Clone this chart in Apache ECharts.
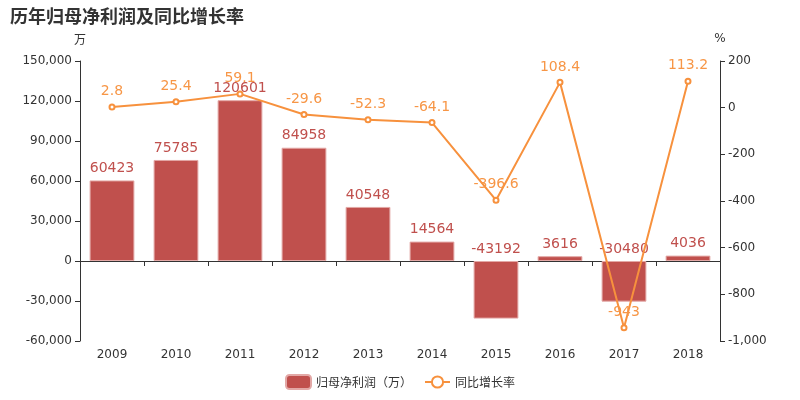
<!DOCTYPE html>
<html><head><meta charset="utf-8">
<script src="https://cdn.jsdelivr.net/npm/echarts@6/dist/echarts.min.js"></script>
<style>html,body{margin:0;padding:0;}#c{width:800px;height:400px;}</style>
</head><body><div id="c"></div>
<script>
var categories = ['2009','2010','2011','2012','2013','2014','2015','2016','2017','2018'];
var profit = [60423, 75785, 120601, 84958, 40548, 14564, -43192, 3616, -30480, 4036];
var growth = [2.8, 25.4, 59.1, -29.6, -52.3, -64.1, -396.6, 108.4, -943, 113.2];
var leftTicks = {min: -60000, max: 150000, interval: 30000};
var rightTicks = {min: -1000, max: 200, interval: 200};

var chart = echarts.init(document.getElementById('c'), null, {renderer: 'canvas'});
var axisColor = '#333';
var font = '"DejaVu Sans", "Noto Sans CJK SC", sans-serif';
chart.setOption({
  animation: false,
  textStyle: {fontFamily: font},
  title: {text: '历年归母净利润及同比增长率', left: 5, top: 2,
    textStyle: {fontSize: 18, fontWeight: 'bold', color: '#333', fontFamily: '"Noto Sans CJK SC", sans-serif'}},
  grid: {left: 80, right: 80, top: 61, bottom: 59, containLabel: false},
  legend: {bottom: 5, left: 'center', itemWidth: 25, itemHeight: 14, itemGap: 12,
    textStyle: {color: '#333', fontSize: 12, fontFamily: '"Noto Sans CJK SC", sans-serif'},
    data: [{name: '归母净利润（万）', icon: 'roundRect'}, {name: '同比增长率'}]},
  xAxis: [{
    type: 'category', data: categories,
    axisLine: {onZero: true, lineStyle: {color: axisColor}},
    axisTick: {show: true, length: 5, lineStyle: {color: axisColor}},
    axisLabel: {show: false}
  }, {
    type: 'category', data: categories, position: 'bottom',
    axisLine: {show: false, onZero: false}, axisTick: {show: false},
    axisLabel: {color: axisColor, fontSize: 12, margin: 8}
  }],
  yAxis: [{
    type: 'value', name: '万', nameGap: 16, nameTextStyle: {color: axisColor, fontSize: 12, align: 'center', fontFamily: '"Noto Sans CJK SC", sans-serif'},
    min: leftTicks.min, max: leftTicks.max, interval: leftTicks.interval,
    axisLine: {show: true, lineStyle: {color: axisColor}},
    axisTick: {show: true, length: 5, lineStyle: {color: axisColor}},
    axisLabel: {color: axisColor, fontSize: 12, margin: 8},
    splitLine: {show: false}
  }, {
    type: 'value', name: '%', nameGap: 16, nameTextStyle: {color: axisColor, fontSize: 12, align: 'center'},
    min: rightTicks.min, max: rightTicks.max, interval: rightTicks.interval,
    axisLine: {show: true, lineStyle: {color: axisColor}},
    axisTick: {show: true, length: 5, lineStyle: {color: axisColor}},
    axisLabel: {color: axisColor, fontSize: 12, margin: 8},
    splitLine: {show: false}
  }],
  series: [{
    name: '归母净利润（万）', type: 'bar', data: profit, xAxisIndex: 0, yAxisIndex: 0,
    barWidth: '70%',
    itemStyle: {color: '#c0504d', borderColor: '#e3a8a6', borderWidth: 1},
    label: {show: true, position: 'top', color: '#c0504d', fontSize: 14, distance: 5}
  }, {
    name: '同比增长率', type: 'line', data: growth, xAxisIndex: 0, yAxisIndex: 1,
    symbol: 'emptyCircle', symbolSize: 5,
    lineStyle: {color: '#f7913d', width: 2},
    itemStyle: {color: '#f7913d', borderColor: '#f7913d'},
    label: {show: true, position: 'top', color: '#f79646', fontSize: 14, distance: 5}
  }]
});
</script></body></html>
